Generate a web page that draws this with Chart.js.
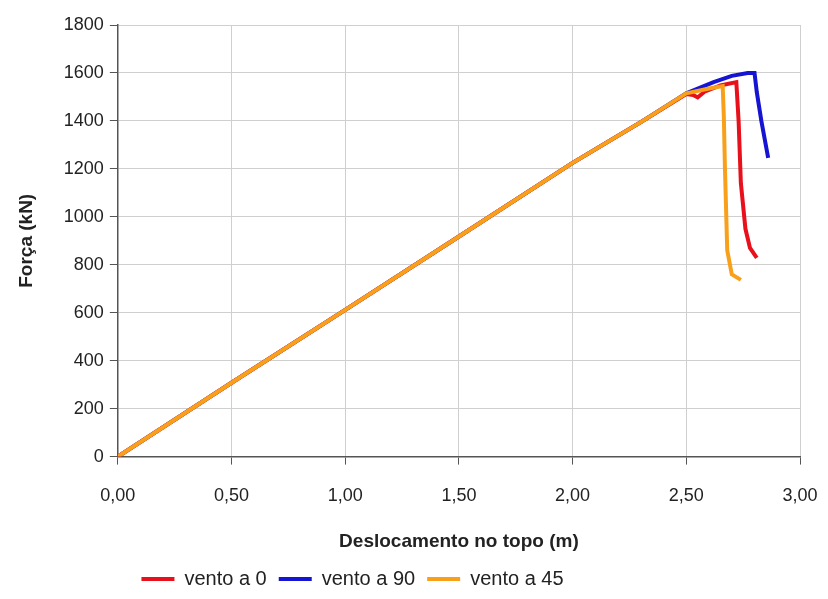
<!DOCTYPE html>
<html>
<head>
<meta charset="utf-8">
<script src="https://cdn.jsdelivr.net/npm/chart.js@4"></script>
<style>
	html, body { margin: 0; padding: 0; background: #fff; }
	#wrap { width: 828px; height: 599px; }
</style>
</head>
<body>
<div id="wrap"><canvas id="chart"></canvas></div>
<script>
// dados: deslocamento no topo (m) x força (kN)
const seriesNames = ["vento a 0", "vento a 90", "vento a 45"];

const redX = [0, 0.5, 1.0, 1.5, 2.0, 2.3, 2.5, 2.53, 2.55, 2.58, 2.65, 2.72, 2.73, 2.74, 2.76, 2.78, 2.81];
const redY = [0, 308, 612, 918, 1225, 1395, 1512, 1508, 1498, 1522, 1548, 1562, 1400, 1140, 950, 870, 829];

const blueX = [0, 0.5, 1.0, 1.5, 2.0, 2.3, 2.5, 2.62, 2.7, 2.77, 2.8, 2.81, 2.83, 2.86];
const blueY = [0, 308, 612, 918, 1225, 1395, 1515, 1562, 1588, 1600, 1600, 1520, 1400, 1246];

const orangeX = [0, 0.5, 1.0, 1.5, 2.0, 2.3, 2.5, 2.6, 2.66, 2.665, 2.67, 2.68, 2.7, 2.74];
const orangeY = [0, 308, 612, 918, 1225, 1395, 1515, 1535, 1545, 1420, 1200, 860, 760, 737];

const xTickLabels = ["0,00", "0,50", "1,00", "1,50", "2,00", "2,50", "3,00"];

const toPoints = (xs, ys) => xs.map((x, i) => ({ x: x, y: ys[i] }));

const ctx = document.getElementById("chart").getContext("2d");

const fontFamily = "'Liberation Sans', Arial, sans-serif";

// a legenda do original fica um pouco à esquerda do centro
const legendShift = {
	id: "legendShift",
	afterLayout(chart) {
		const lg = chart.legend;
		if (lg) {
			lg.left -= 66;
			lg.right -= 66;
		}
	},
};

const chartData = {
	datasets: [
		{
			label: seriesNames[0],
			data: toPoints(redX, redY),
			borderColor: "#e8101a",
			backgroundColor: "#e8101a",
			order: 1,
		},
		{
			label: seriesNames[1],
			data: toPoints(blueX, blueY),
			borderColor: "#1414d2",
			backgroundColor: "#1414d2",
			order: 2,
		},
		{
			label: seriesNames[2],
			data: toPoints(orangeX, orangeY),
			borderColor: "#f9a01b",
			backgroundColor: "#f9a01b",
			order: 0,
		},
	],
};

chartData.datasets.forEach((ds) => {
	ds.showLine = true;
	ds.borderWidth = 4;
	ds.pointRadius = 0;
	ds.tension = 0;
});

const config = {
	type: "scatter",
	data: chartData,
	plugins: [legendShift],
	options: {
		responsive: false,
		animation: false,
		layout: { padding: { top: 25, right: 6, left: 15, bottom: 0 } },
		plugins: {
			tooltip: { enabled: false },
			legend: {
				position: "bottom",
				labels: {
					usePointStyle: true,
					pointStyle: "line",
					pointStyleWidth: 33,
					boxHeight: 5,
					padding: 12,
					color: "#222",
					font: { family: fontFamily, size: 20 },
					sort: (a, b) => a.datasetIndex - b.datasetIndex,
				},
			},
		},
		scales: {
			x: {
				type: "linear",
				min: 0,
				max: 3,
				afterFit: (scale) => {
					scale.paddingRight = 28;
				},
				ticks: {
					stepSize: 0.5,
					color: "#222",
					padding: 21,
					font: { family: fontFamily, size: 18 },
					callback: (value) => xTickLabels[Math.round(value / 0.5)],
				},
				grid: { color: "#cfcfcf", tickColor: "#555", tickLength: 8 },
				border: { color: "#555", width: 1.5 },
				title: {
					display: true,
					text: "Deslocamento no topo (m)",
					color: "#222",
					font: { family: fontFamily, size: 19, weight: "bold" },
					padding: { top: 2, bottom: 4 },
				},
			},
			y: {
				min: 0,
				max: 1800,
				ticks: {
					stepSize: 200,
					color: "#222",
					padding: 6,
					font: { family: fontFamily, size: 18 },
					callback: (value) => String(value),
				},
				grid: { color: "#cfcfcf", tickColor: "#555", tickLength: 8 },
				border: { color: "#555", width: 1.5 },
				title: {
					display: true,
					text: "Força (kN)",
					color: "#222",
					font: { family: fontFamily, size: 19, weight: "bold" },
					padding: { top: 0, bottom: 20 },
				},
			},
		},
	},
};

const canvas = document.getElementById("chart");
canvas.width = 828;
canvas.height = 599;
new Chart(ctx, config);
</script>
</body>
</html>
